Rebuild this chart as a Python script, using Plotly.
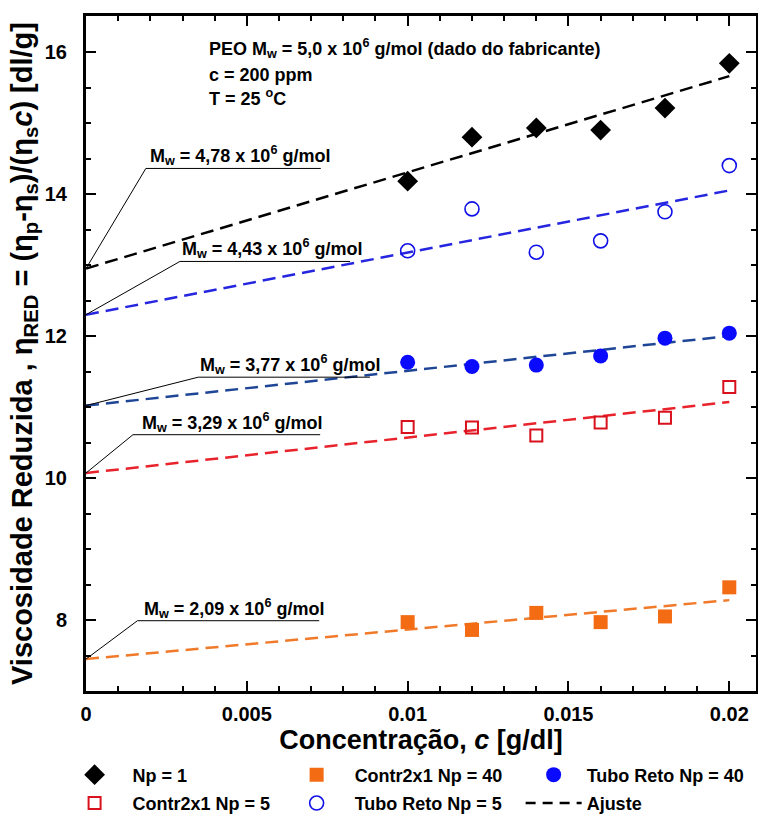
import plotly.graph_objects as go

# concentration of the measured points [g/dl]
conc = [0.010, 0.012, 0.014, 0.016, 0.018, 0.020]

# reduced viscosity [dl/g] for each series
np1 = [14.18, 14.80, 14.93, 14.90, 15.21, 15.84]
tubo_np5 = [13.20, 13.79, 13.18, 13.34, 13.75, 14.40]
tubo_np40 = [11.63, 11.57, 11.59, 11.72, 11.97, 12.04]
contr_np5 = [10.72, 10.71, 10.60, 10.78, 10.85, 11.28]
contr_np40 = [7.97, 7.86, 8.10, 7.97, 8.05, 8.46]

# linear fits (end points at c = 0 and c = 0.02)
fit_x = [0.0, 0.020]
fit_np1 = [12.95, 15.66]
fit_tubo_np5 = [12.30, 14.05]
fit_tubo_np40 = [11.02, 12.00]
fit_contr_np5 = [10.07, 11.07]
fit_contr_np40 = [7.45, 8.28]

# intrinsic-viscosity molecular weights (x 10^6 g/mol)
mw_values = ["4,78", "4,43", "3,77", "3,29", "2,09"]

x_ticks = [0, 0.005, 0.01, 0.015, 0.02]
x_tick_text = ["0", "0.005", "0.01", "0.015", "0.02"]
y_ticks = [8, 10, 12, 14, 16]

FONT = "Liberation Sans, Arial, sans-serif"
DASH = "13px,7px"

fig = go.Figure()

fits = [
    (fit_np1, "black"),
    (fit_tubo_np5, "#2626e0"),
    (fit_tubo_np40, "#1f4596"),
    (fit_contr_np5, "#e8232b"),
    (fit_contr_np40, "#f07a2a"),
]
for ys, col in fits:
    fig.add_trace(go.Scatter(x=fit_x, y=ys, mode="lines",
                             line=dict(color=col, width=2.5, dash=DASH),
                             showlegend=False, hoverinfo="skip"))

# legend-only entry for the fit lines
fig.add_trace(go.Scatter(x=[None], y=[None], mode="lines", name="Ajuste",
                         line=dict(color="black", width=2.5, dash="10px,7px"),
                         legend="legend3", legendgroup="g6", legendrank=2))

fig.add_trace(go.Scatter(x=conc, y=np1, mode="markers", name="Np = 1",
                         marker=dict(symbol="diamond", size=16, color="black"),
                         legend="legend", legendgroup="g1", legendrank=1))
fig.add_trace(go.Scatter(x=conc, y=contr_np5, mode="markers", name="Contr2x1 Np = 5",
                         marker=dict(symbol="square-open", size=12, color="#d8111c",
                                     line=dict(width=2)),
                         legend="legend", legendgroup="g2", legendrank=2))
fig.add_trace(go.Scatter(x=conc, y=contr_np40, mode="markers", name="Contr2x1 Np = 40",
                         marker=dict(symbol="square", size=14, color="#f36b12"),
                         legend="legend2", legendgroup="g3", legendrank=1))
fig.add_trace(go.Scatter(x=conc, y=tubo_np5, mode="markers", name="Tubo Reto Np = 5",
                         marker=dict(symbol="circle-open", size=14, color="#1010e8",
                                     line=dict(width=1.6)),
                         legend="legend2", legendgroup="g4", legendrank=2))
fig.add_trace(go.Scatter(x=conc, y=tubo_np40, mode="markers", name="Tubo Reto Np = 40",
                         marker=dict(symbol="circle", size=15, color="#0a0aff"),
                         legend="legend3", legendgroup="g5", legendrank=1))

# labels with leader lines pointing at each intercept
intercepts = [fit_np1[0], fit_tubo_np5[0], fit_tubo_np40[0], fit_contr_np5[0], fit_contr_np40[0]]
elbows = [(0.00186, 14.36), (0.00292, 13.05), (0.00349, 11.42), (0.00146, 10.61), (0.00160, 7.99)]
line_ends = [0.00730, 0.00821, 0.00883, 0.00728, 0.00725]
text_x = [0.00192, 0.00292, 0.00348, 0.00168, 0.00174]
for mw, y0, (ex, ey), x_end, tx in zip(mw_values, intercepts, elbows, line_ends, text_x):
    fig.add_shape(type="path",
                  path=f"M 0 {y0} L {ex} {ey} L {x_end} {ey}",
                  line=dict(color="black", width=1), xref="x", yref="y")
    fig.add_annotation(x=tx, y=ey, xref="x", yref="y", xanchor="left", yanchor="bottom",
                       text=f"<b>M<sub>w</sub> = {mw} x 10<sup>6</sup> g/mol</b>",
                       showarrow=False, font=dict(family=FONT, size=18, color="black"),
                       yshift=-2)

header = [
    "<b>PEO M<sub>w</sub> = 5,0 x 10<sup>6</sup> g/mol (dado do fabricante)</b>",
    "<b>c = 200 ppm</b>",
    "<b>T = 25 <sup>o</sup>C</b>",
]
header_y = [16.05, 15.68, 15.36]
for txt, yy in zip(header, header_y):
    fig.add_annotation(x=0.00376, y=yy, xref="x", yref="y", xanchor="left", yanchor="middle",
                       text=txt, showarrow=False,
                       font=dict(family=FONT, size=18, color="black"))

axis_common = dict(
    showline=True, linecolor="black", linewidth=3, mirror="allticks",
    ticks="inside", tickcolor="black", tickwidth=2, ticklen=10,
    showgrid=False, zeroline=False,
    tickfont=dict(family=FONT, size=20, color="black", weight="bold"),
)

fig.update_xaxes(
    range=[0, 0.02083], tickvals=x_ticks, ticktext=x_tick_text,
    ticklabelstandoff=3,
    minor=dict(dtick=0.001, ticks="inside", ticklen=5, tickwidth=2, tickcolor="black"),
    title=dict(text="<b>Concentração, <i>c</i> [g/dl]</b>",
               font=dict(family=FONT, size=27, color="black"), standoff=6),
    **axis_common,
)
fig.update_yaxes(
    range=[7.0, 16.507], tickvals=y_ticks,
    ticklabelstandoff=12,
    minor=dict(dtick=0.5, ticks="inside", ticklen=5, tickwidth=2, tickcolor="black"),
    title=dict(text="<b>Viscosidade Reduzida , η<sub>RED</sub> = (η<sub>p</sub>-η<sub>s</sub>)/(η<sub>s</sub><i>c</i>) [dl/g]</b>",
               font=dict(family=FONT, size=29, color="black"), standoff=4),
    **axis_common,
)

legend_font = dict(family=FONT, size=18, color="black", weight="bold")
legend_common = dict(orientation="v", xanchor="left", yanchor="top", y=-0.097,
                     font=legend_font, bgcolor="rgba(0,0,0,0)",
                     traceorder="grouped", tracegroupgap=2)

fig.update_layout(
    width=758, height=814,
    margin=dict(l=86, r=2, t=16, b=123, autoexpand=False),
    paper_bgcolor="white", plot_bgcolor="white",
    legend=dict(x=-0.0439, itemwidth=66, **legend_common),
    legend2=dict(x=0.2875, itemwidth=66, **legend_common),
    legend3=dict(x=0.6487, itemwidth=56, **legend_common),
)

fig.write_html("out.html")
